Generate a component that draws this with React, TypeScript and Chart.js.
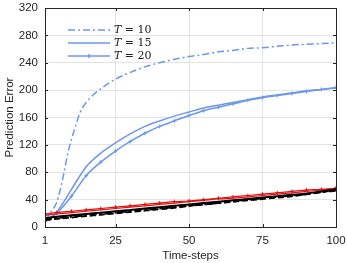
import React, { useEffect, useRef } from "react";
import { Chart, registerables } from "chart.js";

Chart.register(...registerables);

const xTicks = [1, 25, 50, 75, 100];
const yTicks = [0, 40, 80, 120, 160, 200, 240, 280, 320];

const stepsA = [1, 3, 5, 7, 9, 11, 13, 15, 20, 25, 30, 35, 40, 45, 50, 55, 60, 65, 70, 75, 80, 85, 90, 95, 100];
const blueT10 = [9, 22, 36, 70, 112, 142, 168, 182, 202, 216, 226, 234, 240, 245, 249, 252, 256, 258, 261, 262, 264, 266, 267, 268, 269];

const stepsB = [1, 5, 10, 15, 20, 25, 30, 35, 40, 45, 50, 55, 60, 65, 70, 75, 80, 85, 90, 95, 100];
const blueT15 = [8, 22, 55, 88, 108, 123, 136, 147, 155, 162, 168, 174, 178, 182, 186, 190, 193, 196, 199, 201, 203];
const blueT20 = [8, 20, 45, 75, 95, 111, 125, 137, 147, 155, 163, 170, 175, 180, 185, 189, 192, 195, 198, 201, 204];
const redT20 = [19, 21, 23, 25, 27, 29, 31, 33, 35, 37, 38, 40, 42, 44, 46, 48, 50, 52, 54, 55, 57];
const redT15 = [17, 19, 21, 23, 25, 27, 29, 31, 33, 35, 37, 39, 41, 42, 44, 46, 48, 50, 52, 54, 56];
const blackT15 = [13, 15, 17, 19, 21, 23, 25, 27, 29, 31, 33, 35, 37, 39, 41, 43, 45, 47, 49, 52, 55];
const blackT10 = [10, 12, 14, 16, 18, 20, 22, 24, 26, 28, 31, 33, 35, 37, 39, 41, 43, 45, 48, 51, 54];
const blackT20 = [11, 13, 15, 17, 19, 21, 23, 25, 27, 29, 31, 33, 35, 38, 40, 42, 44, 46, 48, 51, 53];

const legendLabels = ["10", "15", "20"];

const BLUE = "#6d97ea";
const RED = "#e01010";
const BLACK = "#000000";
const DASHDOT = [7, 3, 2, 3];
const FONT = "Liberation Sans";

const zip = (xs: number[], ys: number[]) => xs.map((x, i) => ({ x, y: ys[i] }));

const frame = {
  id: "frame",
  afterDraw(chart: any) {
    const { ctx, chartArea: a, scales } = chart;
    ctx.save();
    ctx.strokeStyle = "#262626";
    ctx.lineWidth = 1;
    ctx.strokeRect(Math.round(a.left) + 0.5, Math.round(a.top) + 0.5, Math.round(a.right - a.left), Math.round(a.bottom - a.top));
    ctx.beginPath();
    for (const t of xTicks) {
      const x = Math.round(scales.x.getPixelForValue(t)) + 0.5;
      ctx.moveTo(x, a.bottom); ctx.lineTo(x, a.bottom - 3);
      ctx.moveTo(x, a.top); ctx.lineTo(x, a.top + 3);
    }
    for (const t of yTicks) {
      const y = Math.round(scales.y.getPixelForValue(t)) + 0.5;
      ctx.moveTo(a.left, y); ctx.lineTo(a.left + 3, y);
      ctx.moveTo(a.right, y); ctx.lineTo(a.right - 3, y);
    }
    ctx.stroke();
    // legend
    const x0 = 68, x1 = 110;
    const rows = [30, 43, 56];
    ctx.strokeStyle = BLUE;
    ctx.lineWidth = 1.5;
    rows.forEach((y, i) => {
      ctx.setLineDash(i === 0 ? DASHDOT : []);
      ctx.beginPath();
      ctx.moveTo(x0, y); ctx.lineTo(x1, y);
      ctx.stroke();
      ctx.setLineDash([]);
      if (i === 2) {
        ctx.beginPath();
        ctx.moveTo(89, y - 2); ctx.lineTo(89, y + 2);
        ctx.stroke();
      }
      ctx.fillStyle = "#222";
      ctx.textBaseline = "middle";
      ctx.font = "italic 11px 'DejaVu Serif'";
      ctx.fillText("T", 114, y);
      const w = ctx.measureText("T").width;
      ctx.font = "11px 'DejaVu Serif'";
      ctx.fillText(" = " + legendLabels[i], 114 + w, y);
    });
    ctx.restore();
  },
};

export default function App() {
  const ref = useRef<HTMLCanvasElement>(null);
  useEffect(() => {
    const mk = (label: string, xs: number[], ys: number[], color: string, dash: number[], marker: boolean, width = 1.5) => ({
      label,
      data: zip(xs, ys),
      borderColor: color,
      backgroundColor: color,
      borderWidth: width,
      borderDash: dash,
      pointRadius: marker ? 2 : 0,
      pointStyle: "cross",
      pointBorderWidth: 1,
      cubicInterpolationMode: "monotone",
    });
    const chart = new Chart(ref.current!, {
      type: "line",
      data: {
        datasets: [
          mk("black T=10", stepsB, blackT10, BLACK, [6, 3], false, 2),
          mk("black T=20", stepsB, blackT20, BLACK, DASHDOT, false, 2),
          mk("black T=15", stepsB, blackT15, BLACK, [], false, 2),
          mk("red T=15", stepsB, redT15, RED, [], false, 1.2),
          mk("red T=20", stepsB, redT20, RED, [], true, 1.2),
          mk("T = 10", stepsA, blueT10, BLUE, DASHDOT, false),
          mk("T = 15", stepsB, blueT15, BLUE, [], false),
          mk("T = 20", stepsB, blueT20, BLUE, [], true),
        ] as any,
      },
      options: {
        animation: false,
        responsive: false,
        layout: { padding: { top: 8, right: 11, left: 0, bottom: 0 } },
        plugins: { legend: { display: false }, tooltip: { enabled: false } },
        scales: {
          x: {
            type: "linear",
            min: 1,
            max: 100,
            afterBuildTicks: (s: any) => { s.ticks = xTicks.map((v) => ({ value: v })); },
            grid: { color: "#e3e3e3", drawTicks: false },
            border: { display: false },
            ticks: { color: "#262626", font: { family: FONT, size: 11.5 }, padding: 7, maxRotation: 0 },
            title: { display: true, text: "Time-steps", color: "#262626", font: { family: FONT, size: 11.5 }, padding: { top: 2, bottom: 0 } },
            afterFit: (s: any) => { s.height = 36; s.paddingLeft = 0; s.paddingRight = 0; },
          },
          y: {
            min: 0,
            max: 320,
            afterBuildTicks: (s: any) => { s.ticks = yTicks.map((v) => ({ value: v })); },
            grid: { color: "#e3e3e3", drawTicks: false },
            border: { display: false },
            ticks: { color: "#262626", font: { family: FONT, size: 11.5 }, padding: 7 },
            title: { display: true, text: "Prediction Error", color: "#262626", font: { family: FONT, size: 11.5 }, padding: { top: 3, bottom: 2 } },
            afterFit: (s: any) => { s.width = 45; s.paddingTop = 0; s.paddingBottom = 0; },
          },
        },
      } as any,
      plugins: [frame],
    });
    return () => chart.destroy();
  }, []);
  return (
    <div style={{ position: "fixed", left: 0, top: 0, width: 347, height: 263, background: "#fff" }}>
      <canvas ref={ref} width={347} height={263} style={{ display: "block" }} />
    </div>
  );
}
